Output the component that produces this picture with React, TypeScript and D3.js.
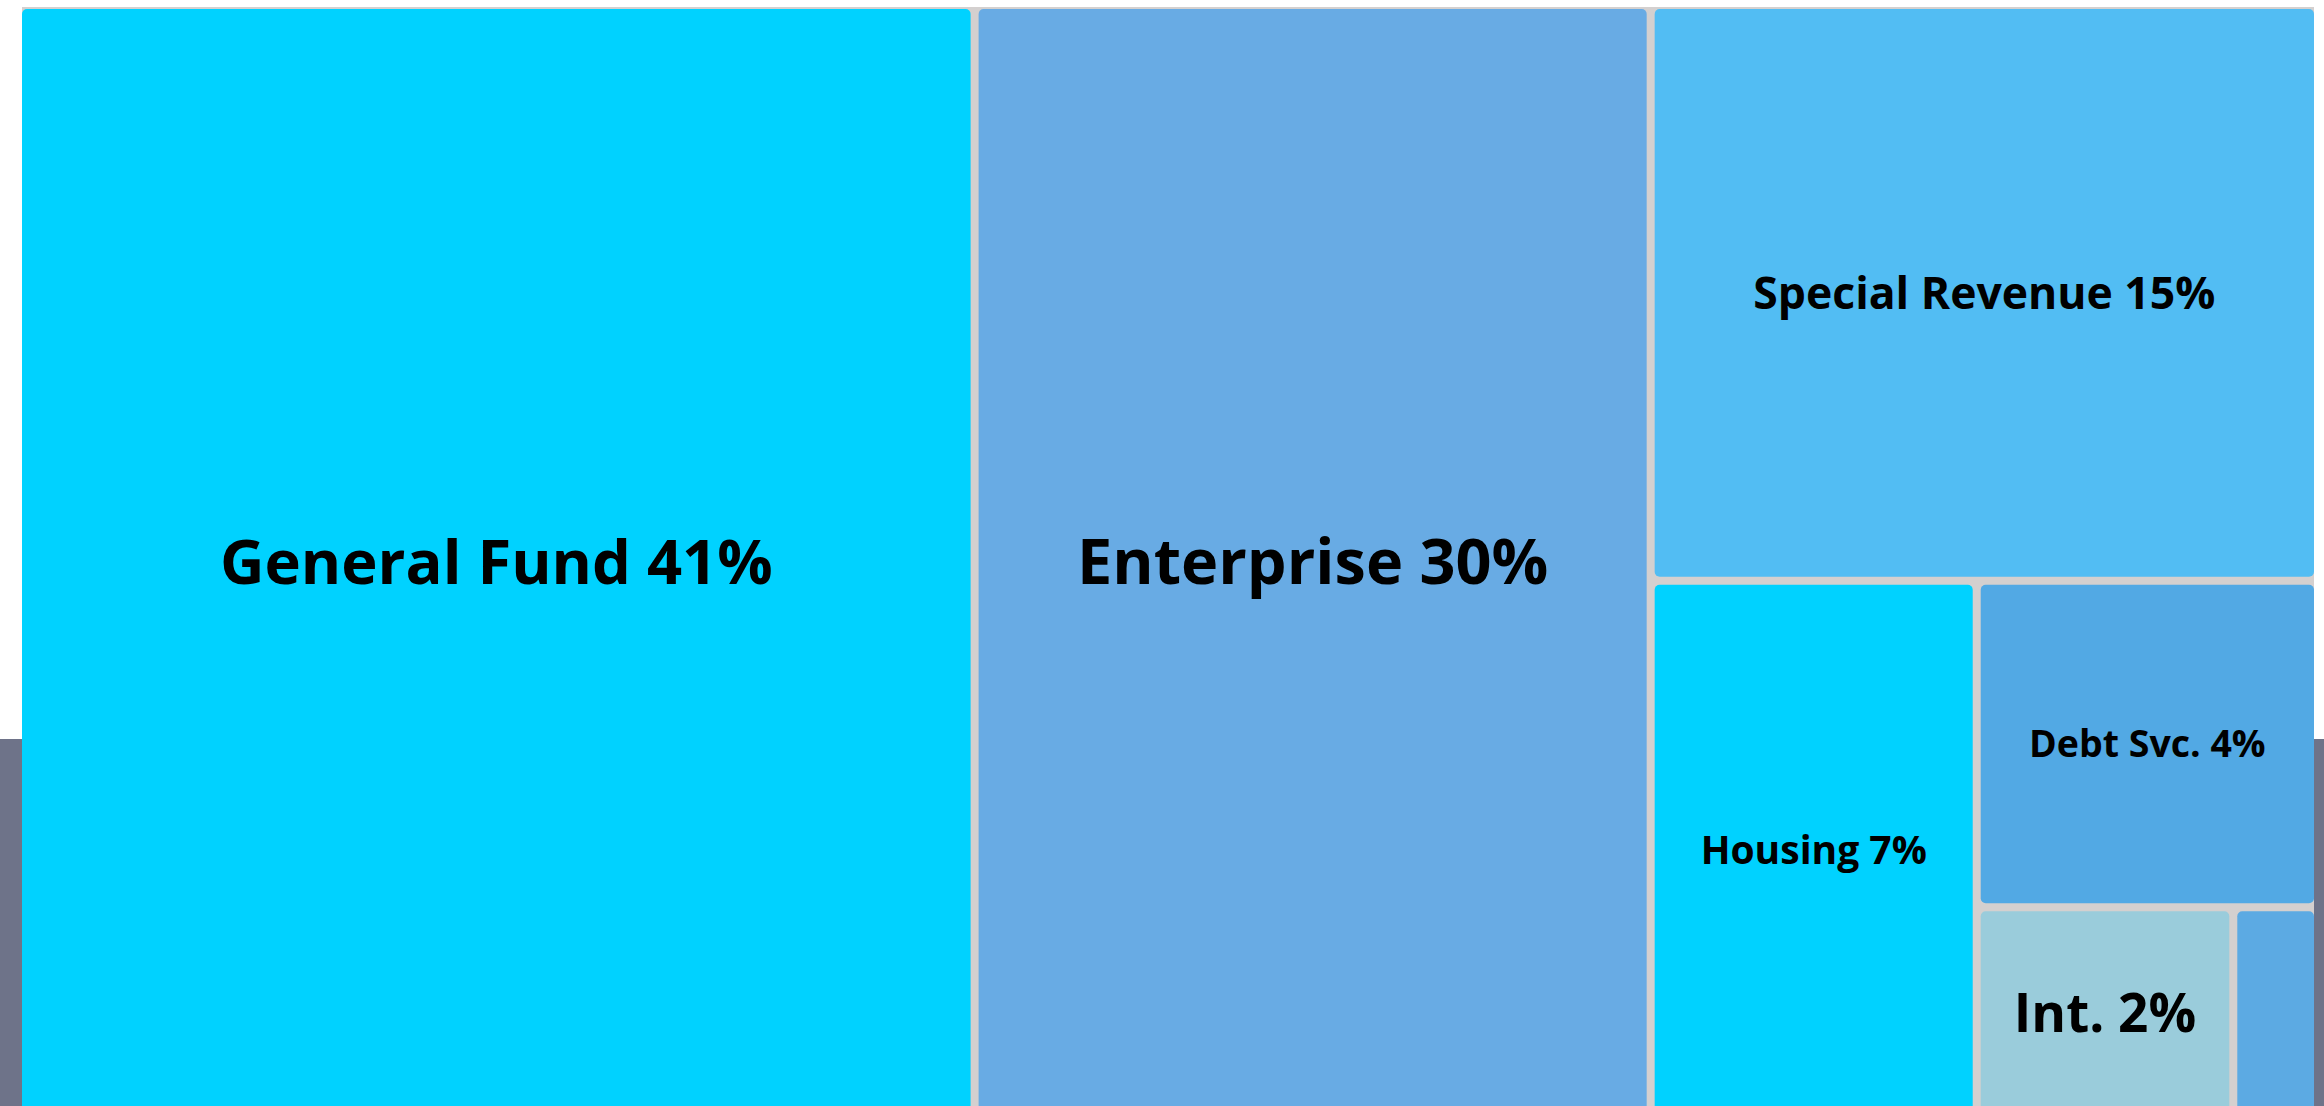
import React from "react";
import * as d3 from "d3";

const categories = ["General Fund", "Enterprise", "Special Revenue", "Housing", "Debt Svc.", "Int.", "Other"];
const values = [41.6, 29.4, 15.0, 6.85, 4.35, 2.12, 0.7];
const percentLabels = ["41%", "30%", "15%", "7%", "4%", "2%", ""];
const colors = ["#00d2ff", "#68abe4", "#52bdf3", "#00d2ff", "#52a9e4", "#9accdb", "#5caae3"];
const fontSizes = [61.5, 63, 44.5, 39, 37.5, 53, 0];

type Leaf = { name: string; value: number; idx: number };

export default function App() {
  const W = 2324;
  const H = 1106;
  const left = 22;
  const top = 9;
  const tw = 2292;
  const th = 1106;

  const data = { children: categories.map((c, i) => ({ name: c, value: values[i], idx: i })) } as any;
  const root = d3
    .hierarchy<any>(data)
    .sum((d: any) => (d.children ? 0 : d.value))
    .sort((a, b) => (b.value ?? 0) - (a.value ?? 0));
  d3.treemap<any>().tile(d3.treemapSquarify.ratio(1)).size([tw, th]).paddingInner(8)(root);
  const leaves = root.leaves() as d3.HierarchyRectangularNode<Leaf>[];

  return (
    <div style={{ position: "fixed", left: 0, top: 0, width: W, height: H, overflow: "hidden" }}>
      <svg width={W} height={H} style={{ display: "block" }}>
        <rect x={0} y={0} width={W} height={H} fill="#ffffff" />
        <rect x={0} y={739} width={W} height={H - 739} fill="#6e7389" />
        <rect x={left} y={7} width={tw} height={H} fill="#d4d0cf" />
        <g transform={`translate(${left},${top})`}>
          {leaves.map((l) => {
            const i = l.data.idx;
            const w = l.x1 - l.x0;
            const h = l.y1 - l.y0;
            const cx = (l.x0 + l.x1) / 2;
            const cy = (l.y0 + l.y1) / 2;
            const fs = fontSizes[i];
            return (
              <g key={l.data.name}>
                <rect x={l.x0} y={l.y0} width={w} height={h} rx={5} ry={5} fill={colors[i]} />
                {fs > 0 && (
                  <text
                    x={cx}
                    y={cy + fs * 0.357}
                    textAnchor="middle"
                    fontFamily="'Open Sans', sans-serif"
                    fontWeight={700}
                    fontSize={fs}
                    fill="#000000"
                  >
                    {`${l.data.name} ${percentLabels[i]}`}
                  </text>
                )}
              </g>
            );
          })}
        </g>
      </svg>
    </div>
  );
}
